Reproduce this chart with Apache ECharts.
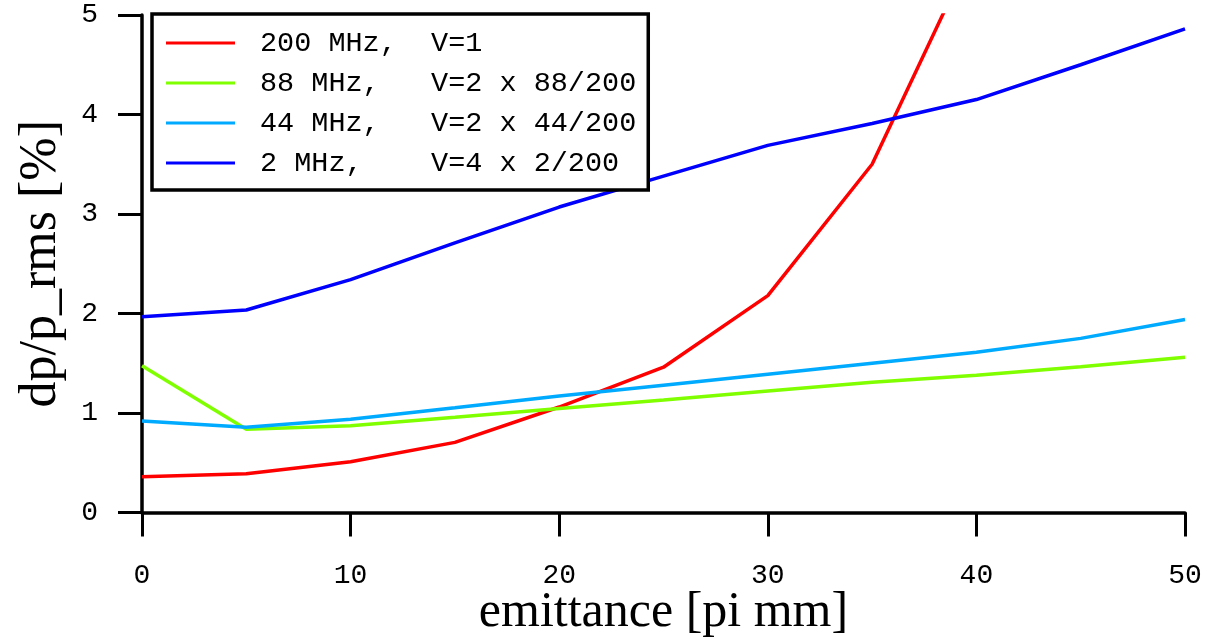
<!DOCTYPE html>
<html>
<head>
<meta charset="utf-8">
<script src="https://cdn.jsdelivr.net/npm/echarts@6/dist/echarts.min.js"></script>
<style>
  html, body { margin: 0; background: #fff; }
  #chart { width: 1208px; height: 637px; }
</style>
</head>
<body>
<div id="chart"></div>
<script>
  // emittance [pi mm]
  const emittance = [0, 5, 10, 15, 20, 25, 30, 35, 40, 45, 50]
  // dp/p rms [%]
  const mhz200 = [0.36, 0.39, 0.51, 0.705, 1.06, 1.46, 2.18, 3.50, 5.72]
  const mhz88 = [1.475, 0.836, 0.872, 0.957, 1.045, 1.13, 1.22, 1.31, 1.38, 1.465, 1.56]
  const mhz44 = [0.92, 0.856, 0.937, 1.053, 1.17, 1.28, 1.39, 1.50, 1.61, 1.75, 1.94]
  const mhz2 = [1.968, 2.035, 2.34, 2.71, 3.07, 3.38, 3.69, 3.91, 4.15, 4.50, 4.86]
  const names = ['200 MHz,  V=1', '88 MHz,   V=2 x 88/200', '44 MHz,   V=2 x 44/200', '2 MHz,    V=4 x 2/200']
  const colors = ['#ff0000', '#80ff00', '#00aaff', '#0000ff']

  function pairs(vals) {
    return vals.map((v, i) => [emittance[i], v])
  }

  const mono = 'Liberation Mono'
  const serif = 'Liberation Serif'

  const chart = echarts.init(document.getElementById('chart'))
  chart.setOption({
    animation: false,
    color: colors,
    grid: { left: 142, right: 23, top: 15, bottom: 124.5, containLabel: false, outerBoundsMode: 'none' },
    legend: {
      orient: 'vertical',
      left: 152,
      top: 14,
      icon: 'rect',
      itemWidth: 69,
      itemHeight: 3,
      itemGap: 10,
      padding: [14, 12, 12, 14],
      backgroundColor: '#fff',
      borderColor: '#000',
      borderWidth: 3.5,
      textStyle: { fontFamily: mono, fontSize: 28.5, lineHeight: 30, color: '#000', padding: [0, 0, 0, 20] },
      data: names
    },
    xAxis: {
      type: 'value',
      min: 0,
      max: 50,
      interval: 10,
      offset: 4,
      name: 'emittance [pi mm]',
      nameLocation: 'middle',
      nameGap: 71,
      nameMoveOverlap: false,
      nameTextStyle: { fontFamily: serif, fontSize: 50, color: '#000' },
      axisLine: { show: true, lineStyle: { color: '#000', width: 3.5 } },
      axisTick: { show: true, length: 24, lineStyle: { color: '#000', width: 3 } },
      axisLabel: { margin: 45, fontFamily: mono, fontSize: 28, color: '#000' },
      splitLine: { show: false }
    },
    yAxis: {
      type: 'value',
      min: 0,
      max: 5,
      interval: 1,
      offset: 5,
      name: 'dp/p_rms [%]',
      nameLocation: 'middle',
      nameGap: 70,
      nameMoveOverlap: false,
      nameTextStyle: { fontFamily: serif, fontSize: 52, color: '#000' },
      axisLine: { show: true, lineStyle: { color: '#000', width: 3.5 } },
      axisTick: { show: true, length: 24, lineStyle: { color: '#000', width: 3 } },
      axisLabel: { margin: 39, fontFamily: mono, fontSize: 28, color: '#000' },
      splitLine: { show: false }
    },
    series: [
      { name: names[0], type: 'line', symbol: 'none', lineStyle: { width: 3.5 }, data: pairs(mhz200) },
      { name: names[1], type: 'line', symbol: 'none', lineStyle: { width: 3.5 }, data: pairs(mhz88) },
      { name: names[2], type: 'line', symbol: 'none', lineStyle: { width: 3.5 }, data: pairs(mhz44) },
      { name: names[3], type: 'line', symbol: 'none', lineStyle: { width: 3.5 }, data: pairs(mhz2) }
    ]
  })
</script>
</body>
</html>
